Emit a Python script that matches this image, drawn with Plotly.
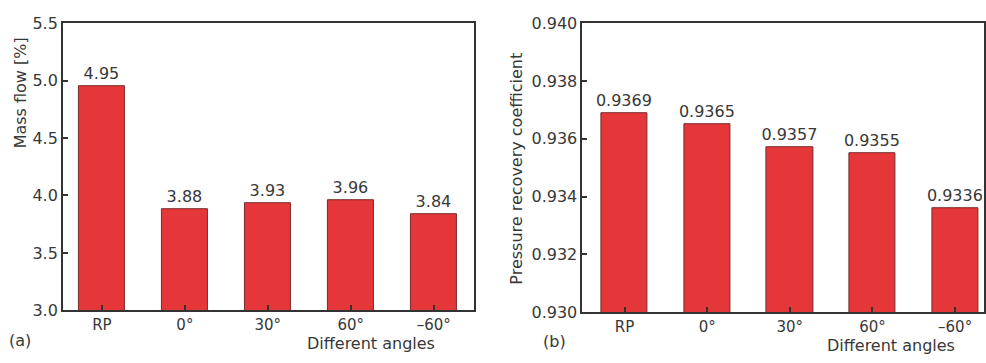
import plotly.graph_objects as go

categories = ["RP", "0°", "30°", "60°", "–60°"]
mass_flow = [4.95, 3.88, 3.93, 3.96, 3.84]
mass_flow_labels = ["4.95", "3.88", "3.93", "3.96", "3.84"]
pressure_recovery = [0.9369, 0.9365, 0.9357, 0.9355, 0.9336]
pressure_labels = ["0.9369", "0.9365", "0.9357", "0.9355", "0.9336"]
mass_ticks = [3.0, 3.5, 4.0, 4.5, 5.0, 5.5]
mass_tick_text = ["3.0", "3.5", "4.0", "4.5", "5.0", "5.5"]
pr_ticks = [0.930, 0.932, 0.934, 0.936, 0.938, 0.940]
pr_tick_text = ["0.930", "0.932", "0.934", "0.936", "0.938", "0.940"]

W, H = 986, 363
FONT = "DejaVu Sans, Liberation Sans, sans-serif"
TXT = "#383838"
BAR = "#E5363A"

fig = go.Figure()
fig.add_trace(go.Bar(
    x=list(range(len(categories))), y=mass_flow, base=0,
    text=mass_flow_labels, textposition="outside", constraintext="none",
    textfont=dict(family=FONT, size=16, color=TXT),
    marker=dict(color=BAR, line=dict(color="#7a2a2a", width=1)),
    width=0.56, cliponaxis=False, xaxis="x", yaxis="y", showlegend=False,
))
fig.add_trace(go.Bar(
    x=list(range(len(categories))), y=pressure_recovery, base=0,
    text=pressure_labels, textposition="outside", constraintext="none",
    textfont=dict(family=FONT, size=16, color=TXT),
    marker=dict(color=BAR, line=dict(color="#7a2a2a", width=1)),
    width=0.56, cliponaxis=False, xaxis="x2", yaxis="y2", showlegend=False,
))

axis_common = dict(
    showline=True, linecolor="#333333", linewidth=1.8, mirror=True,
    ticks="inside", ticklen=5, tickcolor="#333333", tickwidth=1.5,
    showgrid=False, zeroline=False,
)
ytick_font = dict(family=FONT, size=16, color=TXT)
xtick_font = dict(family=FONT, size=15, color=TXT)

fig.update_layout(
    width=W, height=H, margin=dict(l=0, r=0, t=0, b=0),
    paper_bgcolor="white", plot_bgcolor="white",
    bargap=0,
    xaxis=dict(domain=[63 / W, 474 / W], range=[-0.47, 4.48],
               tickvals=list(range(len(categories))), ticktext=categories,
               anchor="y", ticklabelstandoff=0, tickfont=xtick_font, **axis_common),
    yaxis=dict(domain=[(H - 318) / H, (H - 15) / H], range=[3.0, 5.5],
               tickvals=mass_ticks, ticktext=mass_tick_text,
               anchor="x", tickfont=ytick_font, **axis_common),
    xaxis2=dict(domain=[583 / W, 0.999], range=[-0.51, 4.35],
                tickvals=list(range(len(categories))), ticktext=categories,
                anchor="y2", ticklabelstandoff=0, tickfont=xtick_font, **axis_common),
    yaxis2=dict(domain=[(H - 320) / H, (H - 15) / H], range=[0.930, 0.940],
                tickvals=pr_ticks, ticktext=pr_tick_text,
                anchor="x2", tickfont=ytick_font, **axis_common),
    font=dict(family=FONT, color=TXT),
)

ann_font = dict(family=FONT, size=16, color=TXT)
annotations = [
    dict(text="Mass flow [%]", x=20 / W, y=1 - 88 / H, textangle=-90),
    dict(text="Pressure recovery coefficient", x=517 / W, y=1 - 168 / H, textangle=-90),
    dict(text="Different angles", x=371 / W, y=1 - 353 / H),
    dict(text="Different angles", x=892 / W, y=1 - 355 / H),
    dict(text="(a)", x=20 / W, y=1 - 350 / H),
    dict(text="(b)", x=555 / W, y=1 - 351 / H),
]
for a in annotations:
    fig.add_annotation(xref="paper", yref="paper", showarrow=False,
                       xanchor="center", yanchor="middle", font=ann_font, **a)

fig.write_html(
    "out.html",
    config={"displayModeBar": False},
    post_script="document.body.style.margin='0';document.body.style.overflow='hidden';",
)
